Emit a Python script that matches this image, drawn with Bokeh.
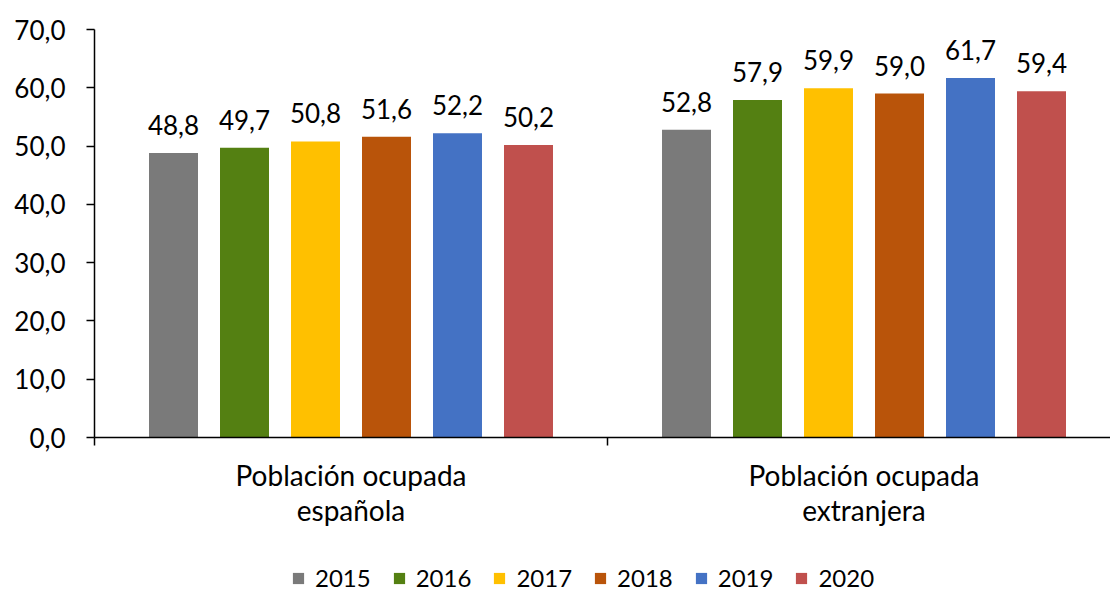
from bokeh.plotting import figure
from bokeh.layouts import column
from bokeh.models import Range1d, LinearAxis, FixedTicker, Legend, LegendItem, ColumnDataSource
from bokeh.transform import dodge
from bokeh.core.properties import value
from bokeh.embed import file_html
from bokeh.resources import INLINE

# ---- data ----
cat_line1 = ["Población ocupada", "Población ocupada"]
cat_line2 = ["española", "extranjera"]
years = ["2015", "2016", "2017", "2018", "2019", "2020"]
espanola = [48.8, 49.7, 50.8, 51.6, 52.2, 50.2]
extranjera = [52.8, 57.9, 59.9, 59.0, 61.7, 59.4]
colors = ["#7A7A7A", "#548012", "#FFC000", "#B9540A", "#4472C4", "#C0504D"]
y_ticks = [0, 10, 20, 30, 40, 50, 60, 70]

FONT = "Lato"
FS_NUM = "26px"
FS_CAT = "28px"
FS_LEG = "24px"
STEP = 0.1384
BAR_W = 0.0955


def fmt(v):
    return f"{v:.1f}".replace(".", ",")


p = figure(frame_width=1016, frame_height=408, x_range=Range1d(0, 1.9805), y_range=Range1d(0, 70),
           output_backend="svg", toolbar_location=None, x_axis_location=None,
           min_border_left=94, min_border_top=29, min_border_right=0, min_border_bottom=127)
p.outline_line_color = None
p.grid.visible = False

cat_x = [i + 0.5 for i in range(len(cat_line1))]
for i, (yr, col) in enumerate(zip(years, colors)):
    vals = [espanola[i], extranjera[i]]
    src = ColumnDataSource(dict(x=cat_x, top=vals, label=[fmt(v) for v in vals]))
    off = (i - (len(years) - 1) / 2) * STEP
    p.vbar(x=dodge("x", off), top="top", width=BAR_W, source=src,
           fill_color=col, line_color=None)
    p.text(x=dodge("x", off), y="top", text="label", source=src, text_align="center",
           text_baseline="alphabetic", y_offset=-28, text_font=value(FONT),
           text_font_size=FS_NUM, text_color="black")

# y axis
ya = p.yaxis[0]
ya.ticker = FixedTicker(ticks=y_ticks)
ya.major_label_overrides = {float(t): fmt(t) for t in y_ticks}
ya.major_label_text_font = FONT
ya.major_label_text_font_size = FS_NUM
ya.major_label_text_color = "black"
ya.axis_line_color = "black"
ya.axis_line_width = 1.5
ya.major_tick_line_width = 1.5
ya.major_tick_out = 8
ya.major_tick_in = 0
ya.minor_tick_out = 0
ya.minor_tick_in = 0
ya.major_label_standoff = 21

# x axis: boundary ticks (no labels)
xa = LinearAxis(ticker=FixedTicker(ticks=[0, 1, 2]), major_tick_out=8, major_tick_in=0,
                minor_tick_out=0, minor_tick_in=0, major_label_text_font_size="1px",
                major_label_text_color=None,
                major_label_standoff=0, axis_line_width=1.5, major_tick_line_width=1.5,
                axis_line_color="black", major_tick_line_color="black")
p.add_layout(xa, "below")

# category labels, two lines
lab1 = LinearAxis(ticker=FixedTicker(ticks=cat_x),
                  major_label_overrides={float(x): t for x, t in zip(cat_x, cat_line1)},
                  axis_line_color=None, major_tick_line_color=None, minor_tick_line_color=None,
                  major_tick_out=0, major_tick_in=0, minor_tick_out=0, minor_tick_in=0,
                  major_label_text_font=FONT, major_label_text_font_size=FS_CAT,
                  major_label_text_color="black", major_label_standoff=12)
p.add_layout(lab1, "below")
lab2 = LinearAxis(ticker=FixedTicker(ticks=cat_x),
                  major_label_overrides={float(x): t for x, t in zip(cat_x, cat_line2)},
                  axis_line_color=None, major_tick_line_color=None, minor_tick_line_color=None,
                  major_tick_out=0, major_tick_in=0, minor_tick_out=0, minor_tick_in=0,
                  major_label_text_font=FONT, major_label_text_font_size=FS_CAT,
                  major_label_text_color="black", major_label_standoff=-2)
p.add_layout(lab2, "below")

# legend strip below the chart; its key renderers are zero-height proxies (invisible)
lf = figure(frame_width=1110, frame_height=28, x_range=Range1d(0, 1), y_range=Range1d(0, 1),
            output_backend="svg", toolbar_location=None, x_axis_location=None,
            y_axis_location=None, min_border=0)
lf.outline_line_color = None
lf.grid.visible = False
items = []
for yr, col in zip(years, colors):
    ksrc = ColumnDataSource(dict(x=[0.5], top=[0.0]))
    r = lf.vbar(x="x", top="top", width=0.01, source=ksrc, fill_color=col, line_color=None)
    items.append(LegendItem(label=yr, renderers=[r]))
legend = Legend(items=items, orientation="horizontal", location=(291, 0),
                label_text_font=FONT, label_text_font_size=FS_LEG, label_text_color="black",
                label_text_line_height=1.0, label_height=14,
                glyph_width=14, glyph_height=14, label_standoff=10, spacing=21,
                border_line_color=None, background_fill_alpha=0, padding=0, margin=0)
lf.add_layout(legend, "center")

layout = column(p, lf, spacing=0)
open("out.html", "w").write(file_html(layout, INLINE))
